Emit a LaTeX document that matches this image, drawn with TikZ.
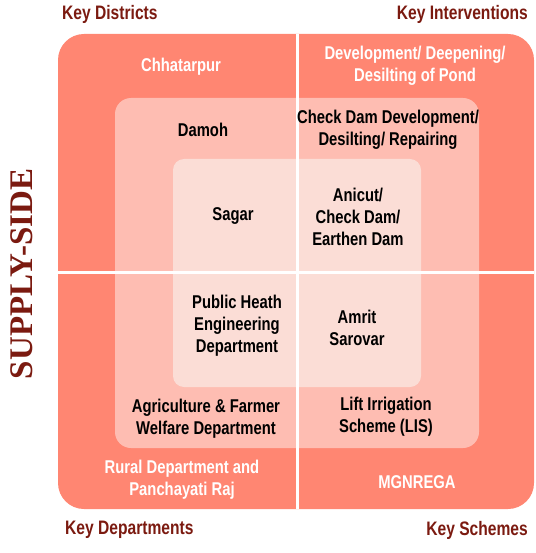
\documentclass[tikz,border=0pt]{standalone}
\usepackage{fontspec}
\setmainfont{Liberation Sans}[FakeStretch=0.8]
\newfontfamily\sideserif{Liberation Serif}
\definecolor{ringA}{HTML}{FF8672}
\definecolor{ringB}{HTML}{FEBDB2}
\definecolor{ringC}{HTML}{FBDDD6}
\definecolor{titlered}{HTML}{7B1A10}
\tikzset{
  every node/.style={font=\fontsize{18.5}{22}\selectfont\bfseries, align=center, inner sep=0pt},
  title/.style={text=titlered, font=\fontsize{19.5}{22}\selectfont\bfseries},
  whitetxt/.style={text=white},
  blacktxt/.style={text=black},
}
\begin{document}
\begin{tikzpicture}[x=1pt,y=-1pt]
\useasboundingbox (0,0) rectangle (535,553);
\fill[ringA, rounded corners=26pt] (58,34) rectangle (534,509);
\fill[ringB, rounded corners=16pt] (115,98) rectangle (479,448);
\fill[ringC, rounded corners=11pt] (173,159) rectangle (421,387);
\draw[white, line width=3pt] (297,34) -- (297,509);
\draw[white, line width=3pt] (58,272) -- (534,272);
% titles
\node[title, anchor=west] (kd) at (62,14) {Key Districts};
\node[title, anchor=east] (ki) at (528,14) {Key Interventions};
\node[title, anchor=west] (kdep) at (65,530) {Key Departments};
\node[title, anchor=east] (ks) at (528,530) {Key Schemes};
\node[title, rotate=90, font=\sideserif\fontsize{33}{33}\selectfont\bfseries] (side) at (22,274) {SUPPLY-SIDE};
% outer ring
\node[whitetxt] (chh) at (181,67) {Chhatarpur};
\node[whitetxt] (dev) at (415,66) {Development/ Deepening/\\Desilting of Pond};
\node[whitetxt] (rural) at (182,480) {Rural Department and\\Panchayati Raj};
\node[whitetxt] (mgn) at (417,482) {MGNREGA};
% middle ring
\node[blacktxt] (dam) at (203,130) {Damoh};
\node[blacktxt] (cdd) at (388,130) {Check Dam Development/\\Desilting/ Repairing};
\node[blacktxt] (agri) at (206,419) {Agriculture \& Farmer\\Welfare Department};
\node[blacktxt] (lis) at (386,417) {Lift Irrigation\\Scheme (LIS)};
% inner
\node[blacktxt] (sag) at (233,216) {Sagar};
\node[blacktxt] (ani) at (358,217) {Anicut/\\Check Dam/\\Earthen Dam};
\node[blacktxt] (phe) at (237,326) {Public Heath\\Engineering\\Department};
\node[blacktxt] (amr) at (357,328) {Amrit\\Sarovar};
\end{tikzpicture}
\end{document}
